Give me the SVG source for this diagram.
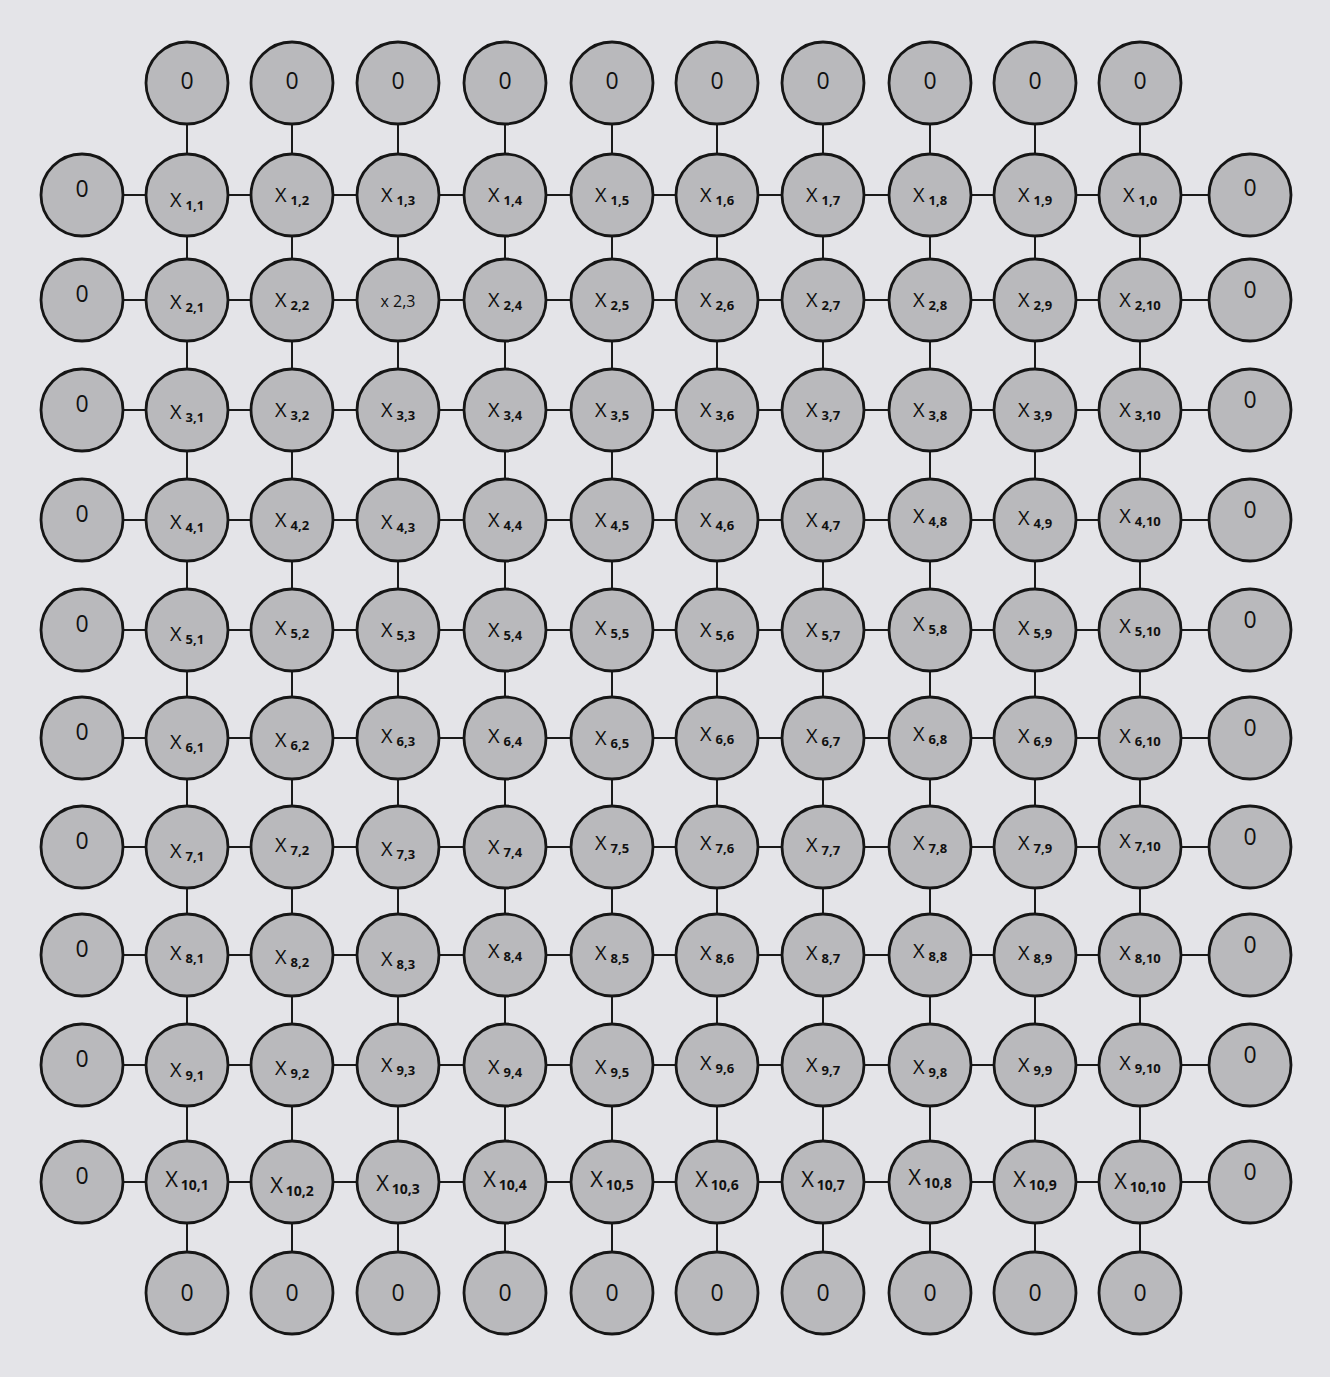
<svg xmlns="http://www.w3.org/2000/svg" width="1330" height="1377" viewBox="0 0 1330 1377">
<style>
.bg{fill:#e4e4e8}
.n circle{fill:#b9b9bc;stroke:#161616;stroke-width:2.8}
.n text{font-family:"Open Sans","Noto Sans",sans-serif;font-size:20px;fill:#111;text-anchor:middle}
.n text.z{font-size:23px}
.s{font-size:13px;font-weight:bold}
.c line{stroke:#1a1a1a;stroke-width:2}
</style>
<rect class="bg" x="0" y="0" width="1330" height="1377"/>
<g id="connectors" class="c">
<line x1="82" y1="195" x2="1250" y2="195"/>
<line x1="82" y1="300" x2="1250" y2="300"/>
<line x1="82" y1="410" x2="1250" y2="410"/>
<line x1="82" y1="520" x2="1250" y2="520"/>
<line x1="82" y1="630" x2="1250" y2="630"/>
<line x1="82" y1="738" x2="1250" y2="738"/>
<line x1="82" y1="847" x2="1250" y2="847"/>
<line x1="82" y1="955" x2="1250" y2="955"/>
<line x1="82" y1="1065" x2="1250" y2="1065"/>
<line x1="82" y1="1182" x2="1250" y2="1182"/>
<line x1="187" y1="83" x2="187" y2="1293"/>
<line x1="292" y1="83" x2="292" y2="1293"/>
<line x1="398" y1="83" x2="398" y2="1293"/>
<line x1="505" y1="83" x2="505" y2="1293"/>
<line x1="612" y1="83" x2="612" y2="1293"/>
<line x1="717" y1="83" x2="717" y2="1293"/>
<line x1="823" y1="83" x2="823" y2="1293"/>
<line x1="930" y1="83" x2="930" y2="1293"/>
<line x1="1035" y1="83" x2="1035" y2="1293"/>
<line x1="1140" y1="83" x2="1140" y2="1293"/>
</g>
<g id="nodes">
<g id="zt1" class="n" transform="translate(187,83)"><circle r="41"/><text class="z" y="6">0</text></g>
<g id="zt2" class="n" transform="translate(292,83)"><circle r="41"/><text class="z" y="6">0</text></g>
<g id="zt3" class="n" transform="translate(398,83)"><circle r="41"/><text class="z" y="6">0</text></g>
<g id="zt4" class="n" transform="translate(505,83)"><circle r="41"/><text class="z" y="6">0</text></g>
<g id="zt5" class="n" transform="translate(612,83)"><circle r="41"/><text class="z" y="6">0</text></g>
<g id="zt6" class="n" transform="translate(717,83)"><circle r="41"/><text class="z" y="6">0</text></g>
<g id="zt7" class="n" transform="translate(823,83)"><circle r="41"/><text class="z" y="6">0</text></g>
<g id="zt8" class="n" transform="translate(930,83)"><circle r="41"/><text class="z" y="6">0</text></g>
<g id="zt9" class="n" transform="translate(1035,83)"><circle r="41"/><text class="z" y="6">0</text></g>
<g id="zt10" class="n" transform="translate(1140,83)"><circle r="41"/><text class="z" y="6">0</text></g>

<g id="zl1" class="n" transform="translate(82,195)"><circle r="41"/><text class="z" y="2">0</text></g>
<g id="zl2" class="n" transform="translate(82,300)"><circle r="41"/><text class="z" y="2">0</text></g>
<g id="zl3" class="n" transform="translate(82,410)"><circle r="41"/><text class="z" y="2">0</text></g>
<g id="zl4" class="n" transform="translate(82,520)"><circle r="41"/><text class="z" y="2">0</text></g>
<g id="zl5" class="n" transform="translate(82,630)"><circle r="41"/><text class="z" y="2">0</text></g>
<g id="zl6" class="n" transform="translate(82,738)"><circle r="41"/><text class="z" y="2">0</text></g>
<g id="zl7" class="n" transform="translate(82,847)"><circle r="41"/><text class="z" y="2">0</text></g>
<g id="zl8" class="n" transform="translate(82,955)"><circle r="41"/><text class="z" y="2">0</text></g>
<g id="zl9" class="n" transform="translate(82,1065)"><circle r="41"/><text class="z" y="2">0</text></g>
<g id="zl10" class="n" transform="translate(82,1182)"><circle r="41"/><text class="z" y="2">0</text></g>

<g id="zr1" class="n" transform="translate(1250,195)"><circle r="41"/><text class="z" y="1">0</text></g>
<g id="zr2" class="n" transform="translate(1250,300)"><circle r="41"/><text class="z" y="-2">0</text></g>
<g id="zr3" class="n" transform="translate(1250,410)"><circle r="41"/><text class="z" y="-2">0</text></g>
<g id="zr4" class="n" transform="translate(1250,520)"><circle r="41"/><text class="z" y="-2">0</text></g>
<g id="zr5" class="n" transform="translate(1250,630)"><circle r="41"/><text class="z" y="-2">0</text></g>
<g id="zr6" class="n" transform="translate(1250,738)"><circle r="41"/><text class="z" y="-2">0</text></g>
<g id="zr7" class="n" transform="translate(1250,847)"><circle r="41"/><text class="z" y="-2">0</text></g>
<g id="zr8" class="n" transform="translate(1250,955)"><circle r="41"/><text class="z" y="-2">0</text></g>
<g id="zr9" class="n" transform="translate(1250,1065)"><circle r="41"/><text class="z" y="-2">0</text></g>
<g id="zr10" class="n" transform="translate(1250,1182)"><circle r="41"/><text class="z" y="-2">0</text></g>

<g id="zb1" class="n" transform="translate(187,1293)"><circle r="41"/><text class="z" y="8">0</text></g>
<g id="zb2" class="n" transform="translate(292,1293)"><circle r="41"/><text class="z" y="8">0</text></g>
<g id="zb3" class="n" transform="translate(398,1293)"><circle r="41"/><text class="z" y="8">0</text></g>
<g id="zb4" class="n" transform="translate(505,1293)"><circle r="41"/><text class="z" y="8">0</text></g>
<g id="zb5" class="n" transform="translate(612,1293)"><circle r="41"/><text class="z" y="8">0</text></g>
<g id="zb6" class="n" transform="translate(717,1293)"><circle r="41"/><text class="z" y="8">0</text></g>
<g id="zb7" class="n" transform="translate(823,1293)"><circle r="41"/><text class="z" y="8">0</text></g>
<g id="zb8" class="n" transform="translate(930,1293)"><circle r="41"/><text class="z" y="8">0</text></g>
<g id="zb9" class="n" transform="translate(1035,1293)"><circle r="41"/><text class="z" y="8">0</text></g>
<g id="zb10" class="n" transform="translate(1140,1293)"><circle r="41"/><text class="z" y="8">0</text></g>

<g id="x1_1" class="n" transform="translate(187,195)"><circle r="41"/><text y="12">X<tspan class="s" dx="4" dy="3">1,1</tspan></text></g>
<g id="x1_2" class="n" transform="translate(292,195)"><circle r="41"/><text y="7">X<tspan class="s" dx="4" dy="3">1,2</tspan></text></g>
<g id="x1_3" class="n" transform="translate(398,195)"><circle r="41"/><text y="7">X<tspan class="s" dx="4" dy="3">1,3</tspan></text></g>
<g id="x1_4" class="n" transform="translate(505,195)"><circle r="41"/><text y="7">X<tspan class="s" dx="4" dy="3">1,4</tspan></text></g>
<g id="x1_5" class="n" transform="translate(612,195)"><circle r="41"/><text y="7">X<tspan class="s" dx="4" dy="3">1,5</tspan></text></g>
<g id="x1_6" class="n" transform="translate(717,195)"><circle r="41"/><text y="7">X<tspan class="s" dx="4" dy="3">1,6</tspan></text></g>
<g id="x1_7" class="n" transform="translate(823,195)"><circle r="41"/><text y="7">X<tspan class="s" dx="4" dy="3">1,7</tspan></text></g>
<g id="x1_8" class="n" transform="translate(930,195)"><circle r="41"/><text y="7">X<tspan class="s" dx="4" dy="3">1,8</tspan></text></g>
<g id="x1_9" class="n" transform="translate(1035,195)"><circle r="41"/><text y="7">X<tspan class="s" dx="4" dy="3">1,9</tspan></text></g>
<g id="x1_10" class="n" transform="translate(1140,195)"><circle r="41"/><text y="7">X<tspan class="s" dx="4" dy="3">1,0</tspan></text></g>

<g id="x2_1" class="n" transform="translate(187,300)"><circle r="41"/><text y="9">X<tspan class="s" dx="4" dy="3">2,1</tspan></text></g>
<g id="x2_2" class="n" transform="translate(292,300)"><circle r="41"/><text y="7">X<tspan class="s" dx="4" dy="3">2,2</tspan></text></g>
<g id="x2_3" class="n" transform="translate(398,300)"><circle r="41"/><text y="7" style="font-size:16px">x 2,3</text></g>
<g id="x2_4" class="n" transform="translate(505,300)"><circle r="41"/><text y="7">X<tspan class="s" dx="4" dy="3">2,4</tspan></text></g>
<g id="x2_5" class="n" transform="translate(612,300)"><circle r="41"/><text y="7">X<tspan class="s" dx="4" dy="3">2,5</tspan></text></g>
<g id="x2_6" class="n" transform="translate(717,300)"><circle r="41"/><text y="7">X<tspan class="s" dx="4" dy="3">2,6</tspan></text></g>
<g id="x2_7" class="n" transform="translate(823,300)"><circle r="41"/><text y="7">X<tspan class="s" dx="4" dy="3">2,7</tspan></text></g>
<g id="x2_8" class="n" transform="translate(930,300)"><circle r="41"/><text y="7">X<tspan class="s" dx="4" dy="3">2,8</tspan></text></g>
<g id="x2_9" class="n" transform="translate(1035,300)"><circle r="41"/><text y="7">X<tspan class="s" dx="4" dy="3">2,9</tspan></text></g>
<g id="x2_10" class="n" transform="translate(1140,300)"><circle r="41"/><text y="7">X<tspan class="s" dx="4" dy="3">2,10</tspan></text></g>

<g id="x3_1" class="n" transform="translate(187,410)"><circle r="41"/><text y="9">X<tspan class="s" dx="4" dy="3">3,1</tspan></text></g>
<g id="x3_2" class="n" transform="translate(292,410)"><circle r="41"/><text y="7">X<tspan class="s" dx="4" dy="3">3,2</tspan></text></g>
<g id="x3_3" class="n" transform="translate(398,410)"><circle r="41"/><text y="7">X<tspan class="s" dx="4" dy="3">3,3</tspan></text></g>
<g id="x3_4" class="n" transform="translate(505,410)"><circle r="41"/><text y="7">X<tspan class="s" dx="4" dy="3">3,4</tspan></text></g>
<g id="x3_5" class="n" transform="translate(612,410)"><circle r="41"/><text y="7">X<tspan class="s" dx="4" dy="3">3,5</tspan></text></g>
<g id="x3_6" class="n" transform="translate(717,410)"><circle r="41"/><text y="7">X<tspan class="s" dx="4" dy="3">3,6</tspan></text></g>
<g id="x3_7" class="n" transform="translate(823,410)"><circle r="41"/><text y="7">X<tspan class="s" dx="4" dy="3">3,7</tspan></text></g>
<g id="x3_8" class="n" transform="translate(930,410)"><circle r="41"/><text y="7">X<tspan class="s" dx="4" dy="3">3,8</tspan></text></g>
<g id="x3_9" class="n" transform="translate(1035,410)"><circle r="41"/><text y="7">X<tspan class="s" dx="4" dy="3">3,9</tspan></text></g>
<g id="x3_10" class="n" transform="translate(1140,410)"><circle r="41"/><text y="7">X<tspan class="s" dx="4" dy="3">3,10</tspan></text></g>

<g id="x4_1" class="n" transform="translate(187,520)"><circle r="41"/><text y="9">X<tspan class="s" dx="4" dy="3">4,1</tspan></text></g>
<g id="x4_2" class="n" transform="translate(292,520)"><circle r="41"/><text y="7">X<tspan class="s" dx="4" dy="3">4,2</tspan></text></g>
<g id="x4_3" class="n" transform="translate(398,520)"><circle r="41"/><text y="9">X<tspan class="s" dx="4" dy="3">4,3</tspan></text></g>
<g id="x4_4" class="n" transform="translate(505,520)"><circle r="41"/><text y="7">X<tspan class="s" dx="4" dy="3">4,4</tspan></text></g>
<g id="x4_5" class="n" transform="translate(612,520)"><circle r="41"/><text y="7">X<tspan class="s" dx="4" dy="3">4,5</tspan></text></g>
<g id="x4_6" class="n" transform="translate(717,520)"><circle r="41"/><text y="7">X<tspan class="s" dx="4" dy="3">4,6</tspan></text></g>
<g id="x4_7" class="n" transform="translate(823,520)"><circle r="41"/><text y="7">X<tspan class="s" dx="4" dy="3">4,7</tspan></text></g>
<g id="x4_8" class="n" transform="translate(930,520)"><circle r="41"/><text y="3">X<tspan class="s" dx="4" dy="3">4,8</tspan></text></g>
<g id="x4_9" class="n" transform="translate(1035,520)"><circle r="41"/><text y="5">X<tspan class="s" dx="4" dy="3">4,9</tspan></text></g>
<g id="x4_10" class="n" transform="translate(1140,520)"><circle r="41"/><text y="3">X<tspan class="s" dx="4" dy="3">4,10</tspan></text></g>

<g id="x5_1" class="n" transform="translate(187,630)"><circle r="41"/><text y="11">X<tspan class="s" dx="4" dy="3">5,1</tspan></text></g>
<g id="x5_2" class="n" transform="translate(292,630)"><circle r="41"/><text y="5">X<tspan class="s" dx="4" dy="3">5,2</tspan></text></g>
<g id="x5_3" class="n" transform="translate(398,630)"><circle r="41"/><text y="7">X<tspan class="s" dx="4" dy="3">5,3</tspan></text></g>
<g id="x5_4" class="n" transform="translate(505,630)"><circle r="41"/><text y="7">X<tspan class="s" dx="4" dy="3">5,4</tspan></text></g>
<g id="x5_5" class="n" transform="translate(612,630)"><circle r="41"/><text y="5">X<tspan class="s" dx="4" dy="3">5,5</tspan></text></g>
<g id="x5_6" class="n" transform="translate(717,630)"><circle r="41"/><text y="7">X<tspan class="s" dx="4" dy="3">5,6</tspan></text></g>
<g id="x5_7" class="n" transform="translate(823,630)"><circle r="41"/><text y="7">X<tspan class="s" dx="4" dy="3">5,7</tspan></text></g>
<g id="x5_8" class="n" transform="translate(930,630)"><circle r="41"/><text y="1">X<tspan class="s" dx="4" dy="3">5,8</tspan></text></g>
<g id="x5_9" class="n" transform="translate(1035,630)"><circle r="41"/><text y="5">X<tspan class="s" dx="4" dy="3">5,9</tspan></text></g>
<g id="x5_10" class="n" transform="translate(1140,630)"><circle r="41"/><text y="3">X<tspan class="s" dx="4" dy="3">5,10</tspan></text></g>

<g id="x6_1" class="n" transform="translate(187,738)"><circle r="41"/><text y="11">X<tspan class="s" dx="4" dy="3">6,1</tspan></text></g>
<g id="x6_2" class="n" transform="translate(292,738)"><circle r="41"/><text y="9">X<tspan class="s" dx="4" dy="3">6,2</tspan></text></g>
<g id="x6_3" class="n" transform="translate(398,738)"><circle r="41"/><text y="5">X<tspan class="s" dx="4" dy="3">6,3</tspan></text></g>
<g id="x6_4" class="n" transform="translate(505,738)"><circle r="41"/><text y="5">X<tspan class="s" dx="4" dy="3">6,4</tspan></text></g>
<g id="x6_5" class="n" transform="translate(612,738)"><circle r="41"/><text y="7">X<tspan class="s" dx="4" dy="3">6,5</tspan></text></g>
<g id="x6_6" class="n" transform="translate(717,738)"><circle r="41"/><text y="3">X<tspan class="s" dx="4" dy="3">6,6</tspan></text></g>
<g id="x6_7" class="n" transform="translate(823,738)"><circle r="41"/><text y="5">X<tspan class="s" dx="4" dy="3">6,7</tspan></text></g>
<g id="x6_8" class="n" transform="translate(930,738)"><circle r="41"/><text y="3">X<tspan class="s" dx="4" dy="3">6,8</tspan></text></g>
<g id="x6_9" class="n" transform="translate(1035,738)"><circle r="41"/><text y="5">X<tspan class="s" dx="4" dy="3">6,9</tspan></text></g>
<g id="x6_10" class="n" transform="translate(1140,738)"><circle r="41"/><text y="5">X<tspan class="s" dx="4" dy="3">6,10</tspan></text></g>

<g id="x7_1" class="n" transform="translate(187,847)"><circle r="41"/><text y="11">X<tspan class="s" dx="4" dy="3">7,1</tspan></text></g>
<g id="x7_2" class="n" transform="translate(292,847)"><circle r="41"/><text y="5">X<tspan class="s" dx="4" dy="3">7,2</tspan></text></g>
<g id="x7_3" class="n" transform="translate(398,847)"><circle r="41"/><text y="9">X<tspan class="s" dx="4" dy="3">7,3</tspan></text></g>
<g id="x7_4" class="n" transform="translate(505,847)"><circle r="41"/><text y="7">X<tspan class="s" dx="4" dy="3">7,4</tspan></text></g>
<g id="x7_5" class="n" transform="translate(612,847)"><circle r="41"/><text y="3">X<tspan class="s" dx="4" dy="3">7,5</tspan></text></g>
<g id="x7_6" class="n" transform="translate(717,847)"><circle r="41"/><text y="3">X<tspan class="s" dx="4" dy="3">7,6</tspan></text></g>
<g id="x7_7" class="n" transform="translate(823,847)"><circle r="41"/><text y="5">X<tspan class="s" dx="4" dy="3">7,7</tspan></text></g>
<g id="x7_8" class="n" transform="translate(930,847)"><circle r="41"/><text y="3">X<tspan class="s" dx="4" dy="3">7,8</tspan></text></g>
<g id="x7_9" class="n" transform="translate(1035,847)"><circle r="41"/><text y="3">X<tspan class="s" dx="4" dy="3">7,9</tspan></text></g>
<g id="x7_10" class="n" transform="translate(1140,847)"><circle r="41"/><text y="1">X<tspan class="s" dx="4" dy="3">7,10</tspan></text></g>

<g id="x8_1" class="n" transform="translate(187,955)"><circle r="41"/><text y="5">X<tspan class="s" dx="4" dy="3">8,1</tspan></text></g>
<g id="x8_2" class="n" transform="translate(292,955)"><circle r="41"/><text y="9">X<tspan class="s" dx="4" dy="3">8,2</tspan></text></g>
<g id="x8_3" class="n" transform="translate(398,955)"><circle r="41"/><text y="11">X<tspan class="s" dx="4" dy="3">8,3</tspan></text></g>
<g id="x8_4" class="n" transform="translate(505,955)"><circle r="41"/><text y="3">X<tspan class="s" dx="4" dy="3">8,4</tspan></text></g>
<g id="x8_5" class="n" transform="translate(612,955)"><circle r="41"/><text y="5">X<tspan class="s" dx="4" dy="3">8,5</tspan></text></g>
<g id="x8_6" class="n" transform="translate(717,955)"><circle r="41"/><text y="5">X<tspan class="s" dx="4" dy="3">8,6</tspan></text></g>
<g id="x8_7" class="n" transform="translate(823,955)"><circle r="41"/><text y="5">X<tspan class="s" dx="4" dy="3">8,7</tspan></text></g>
<g id="x8_8" class="n" transform="translate(930,955)"><circle r="41"/><text y="3">X<tspan class="s" dx="4" dy="3">8,8</tspan></text></g>
<g id="x8_9" class="n" transform="translate(1035,955)"><circle r="41"/><text y="5">X<tspan class="s" dx="4" dy="3">8,9</tspan></text></g>
<g id="x8_10" class="n" transform="translate(1140,955)"><circle r="41"/><text y="5">X<tspan class="s" dx="4" dy="3">8,10</tspan></text></g>

<g id="x9_1" class="n" transform="translate(187,1065)"><circle r="41"/><text y="12">X<tspan class="s" dx="4" dy="3">9,1</tspan></text></g>
<g id="x9_2" class="n" transform="translate(292,1065)"><circle r="41"/><text y="10">X<tspan class="s" dx="4" dy="3">9,2</tspan></text></g>
<g id="x9_3" class="n" transform="translate(398,1065)"><circle r="41"/><text y="7">X<tspan class="s" dx="4" dy="3">9,3</tspan></text></g>
<g id="x9_4" class="n" transform="translate(505,1065)"><circle r="41"/><text y="9">X<tspan class="s" dx="4" dy="3">9,4</tspan></text></g>
<g id="x9_5" class="n" transform="translate(612,1065)"><circle r="41"/><text y="9">X<tspan class="s" dx="4" dy="3">9,5</tspan></text></g>
<g id="x9_6" class="n" transform="translate(717,1065)"><circle r="41"/><text y="5">X<tspan class="s" dx="4" dy="3">9,6</tspan></text></g>
<g id="x9_7" class="n" transform="translate(823,1065)"><circle r="41"/><text y="7">X<tspan class="s" dx="4" dy="3">9,7</tspan></text></g>
<g id="x9_8" class="n" transform="translate(930,1065)"><circle r="41"/><text y="9">X<tspan class="s" dx="4" dy="3">9,8</tspan></text></g>
<g id="x9_9" class="n" transform="translate(1035,1065)"><circle r="41"/><text y="7">X<tspan class="s" dx="4" dy="3">9,9</tspan></text></g>
<g id="x9_10" class="n" transform="translate(1140,1065)"><circle r="41"/><text y="5">X<tspan class="s" dx="4" dy="3">9,10</tspan></text></g>

<g id="x10_1" class="n" transform="translate(187,1182)"><circle r="41"/><text y="5" style="font-size:22px">X<tspan class="s" style="font-size:14px" dx="3" dy="3">10,1</tspan></text></g>
<g id="x10_2" class="n" transform="translate(292,1182)"><circle r="41"/><text y="11" style="font-size:22px">X<tspan class="s" style="font-size:14px" dx="3" dy="3">10,2</tspan></text></g>
<g id="x10_3" class="n" transform="translate(398,1182)"><circle r="41"/><text y="9" style="font-size:22px">X<tspan class="s" style="font-size:14px" dx="3" dy="3">10,3</tspan></text></g>
<g id="x10_4" class="n" transform="translate(505,1182)"><circle r="41"/><text y="5" style="font-size:22px">X<tspan class="s" style="font-size:14px" dx="3" dy="3">10,4</tspan></text></g>
<g id="x10_5" class="n" transform="translate(612,1182)"><circle r="41"/><text y="5" style="font-size:22px">X<tspan class="s" style="font-size:14px" dx="3" dy="3">10,5</tspan></text></g>
<g id="x10_6" class="n" transform="translate(717,1182)"><circle r="41"/><text y="5" style="font-size:22px">X<tspan class="s" style="font-size:14px" dx="3" dy="3">10,6</tspan></text></g>
<g id="x10_7" class="n" transform="translate(823,1182)"><circle r="41"/><text y="5" style="font-size:22px">X<tspan class="s" style="font-size:14px" dx="3" dy="3">10,7</tspan></text></g>
<g id="x10_8" class="n" transform="translate(930,1182)"><circle r="41"/><text y="3" style="font-size:22px">X<tspan class="s" style="font-size:14px" dx="3" dy="3">10,8</tspan></text></g>
<g id="x10_9" class="n" transform="translate(1035,1182)"><circle r="41"/><text y="5" style="font-size:22px">X<tspan class="s" style="font-size:14px" dx="3" dy="3">10,9</tspan></text></g>
<g id="x10_10" class="n" transform="translate(1140,1182)"><circle r="41"/><text y="7" style="font-size:22px">X<tspan class="s" style="font-size:14px" dx="3" dy="3">10,10</tspan></text></g>
</g>
</svg>
